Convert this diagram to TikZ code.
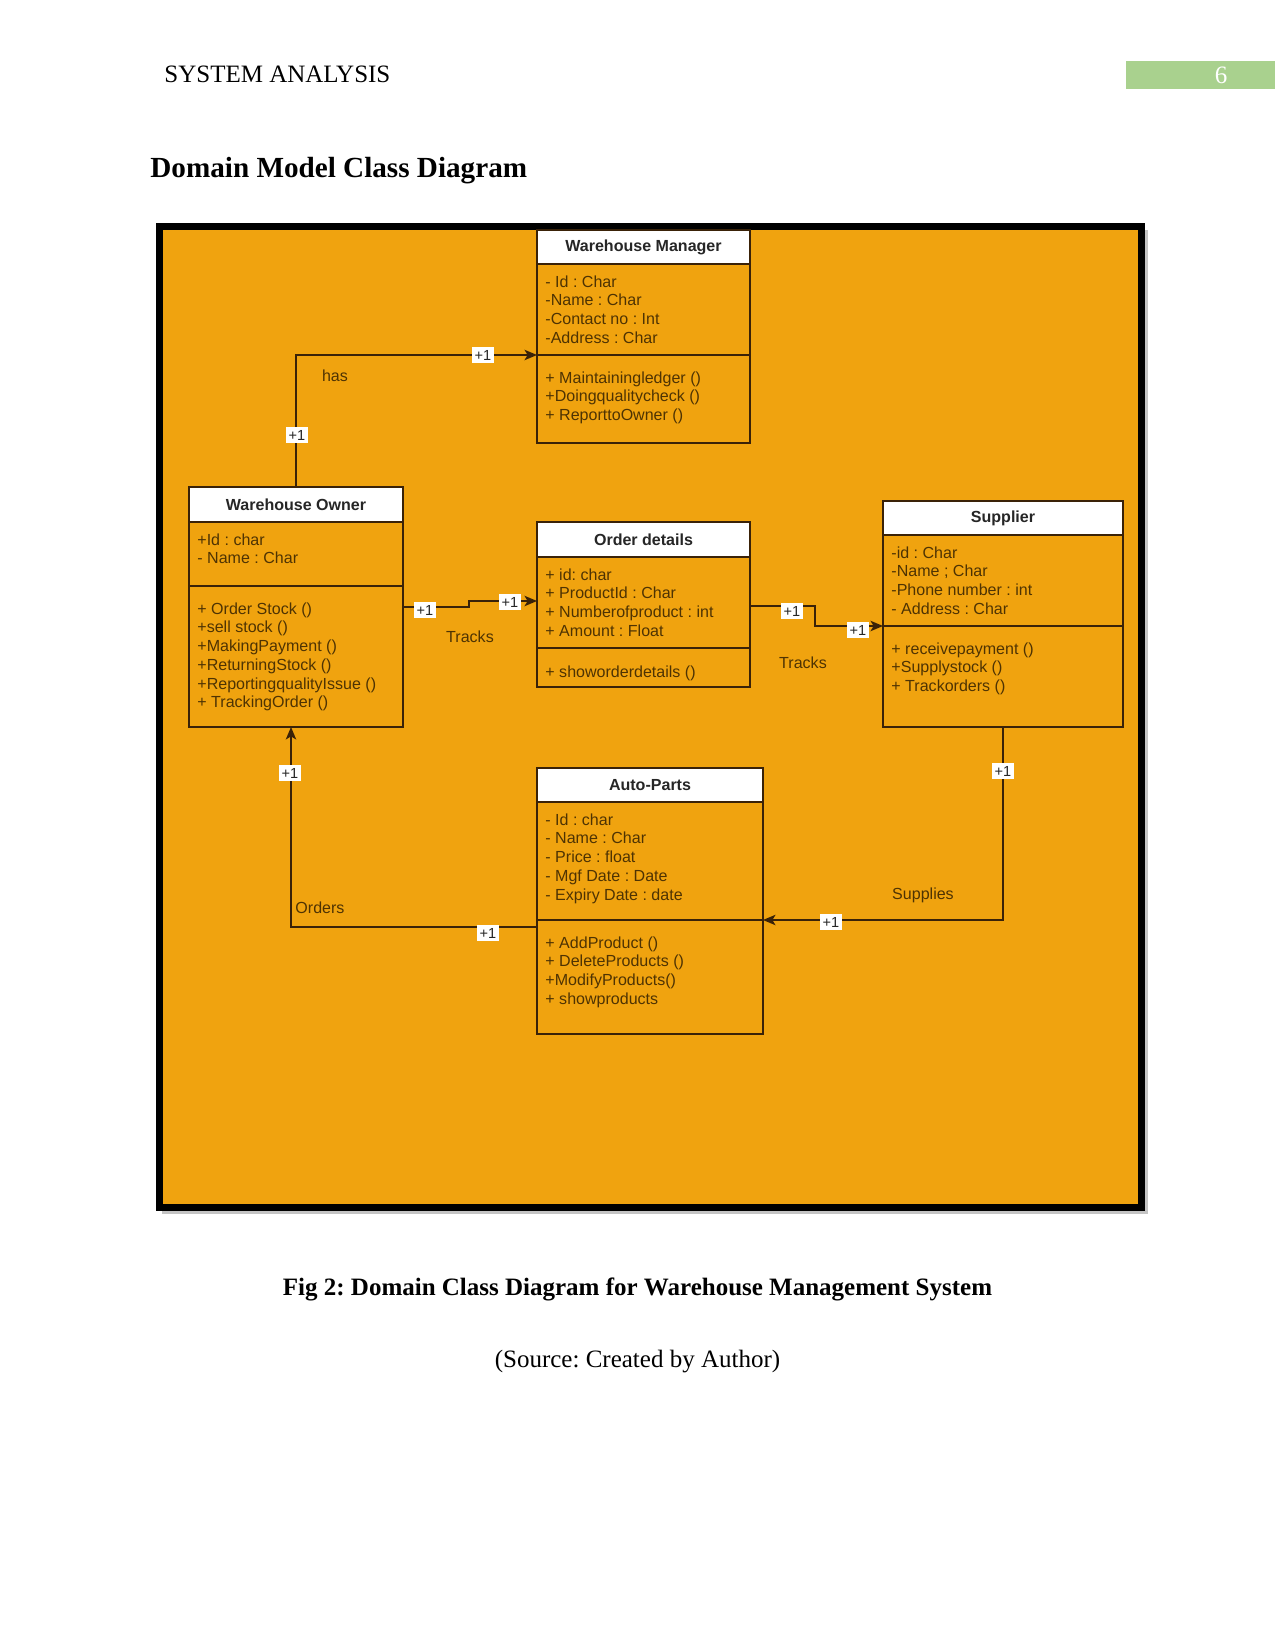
\documentclass[tikz,border=0pt]{standalone}
\usepackage{fontspec}
\setmainfont{Liberation Serif}
\newfontfamily\diagfont{Liberation Sans}
\usetikzlibrary{arrows.meta}
\frenchspacing
\definecolor{bgorange}{HTML}{F0A30F}
\definecolor{umlline}{HTML}{3A2208}
\definecolor{bodytext}{HTML}{4E3303}
\definecolor{headtext}{HTML}{262626}
\definecolor{pagegreen}{HTML}{A9D18E}
\definecolor{shadowgray}{HTML}{C4C4C4}
\newcommand{\px}{0.48pt}
\newcommand{\clsfont}{\diagfont\fontsize{7.7}{9}\selectfont}

\begin{document}
\begin{tikzpicture}[x=0.48pt, y=-0.48pt,
  clshead/.style={draw=umlline, line width=0.9pt, fill=white, anchor=north west, inner sep=0pt, outer sep=0pt, font=\clsfont\bfseries, text=headtext},
  clsbox/.style={draw=umlline, line width=0.9pt, anchor=north west, inner sep=0pt, outer sep=0pt},
  clstext/.style={anchor=north west, inner sep=0pt, align=left, font=\clsfont, text=bodytext, execute at begin node=\strut},
  assoc/.style={draw=umlline, line width=0.75pt, -{Stealth[length=6pt,width=5pt,inset=1.5pt]}},
  mult/.style={fill=white, inner sep=1.5pt, font=\diagfont\fontsize{7}{8}\selectfont, text=black!85},
  rolelbl/.style={font=\clsfont, text=bodytext}]
  \useasboundingbox (0,0) rectangle (1275,1650);

  % page header
  \node[anchor=base west, inner sep=0pt, font=\fontsize{12}{14}\selectfont] (hdr) at (164,83) {SYSTEM ANALYSIS};
  \fill[pagegreen] (1126,61) rectangle (1275,89);
  \node[anchor=base, inner sep=0pt, text=white, font=\fontsize{12}{14}\selectfont] (pgnum) at (1221,84) {6};
  \node[anchor=base west, inner sep=0pt, font=\fontsize{14}{16}\selectfont\bfseries] (title) at (150,178) {Domain Model Class Diagram};

  % frame
  \fill[shadowgray] (162,230) rectangle (1148,1214);
  \draw[line width=7*\px, fill=bgorange] (159.5,226.5) rectangle (1141.5,1207.5);

  % Warehouse Manager
  \node[clshead, minimum width=213*\px, minimum height=34*\px] (mgr) at (537,230) {Warehouse Manager};
  \node[clsbox, minimum width=213*\px, minimum height=91*\px] (mgr-attr) at (mgr.south west) {};
  \node[clsbox, minimum width=213*\px, minimum height=88*\px] (mgr-ops) at (mgr-attr.south west) {};
  \node[clstext] (mgr-attr-t) at ([shift={(8,11)}]mgr-attr.north west)
    {- Id : Char\\-Name : Char\\-Contact no : Int\\-Address : Char};
  \node[clstext] (mgr-ops-t) at ([shift={(8,16)}]mgr-ops.north west)
    {+ Maintainingledger ()\\+Doingqualitycheck ()\\+ ReporttoOwner ()};

  % Warehouse Owner
  \node[clshead, minimum width=214*\px, minimum height=35*\px] (own) at (189,487) {Warehouse Owner};
  \node[clsbox, minimum width=214*\px, minimum height=64*\px] (own-attr) at (own.south west) {};
  \node[clsbox, minimum width=214*\px, minimum height=141*\px] (own-ops) at (own-attr.south west) {};
  \node[clstext] (own-attr-t) at ([shift={(8,11)}]own-attr.north west)
    {+Id : char\\- Name : Char};
  \node[clstext] (own-ops-t) at ([shift={(8,16)}]own-ops.north west)
    {+ Order Stock ()\\+sell stock ()\\+MakingPayment ()\\+ReturningStock ()\\+ReportingqualityIssue ()\\+ TrackingOrder ()};

  % Order details
  \node[clshead, minimum width=213*\px, minimum height=35*\px] (ord) at (537,522) {Order details};
  \node[clsbox, minimum width=213*\px, minimum height=91*\px] (ord-attr) at (ord.south west) {};
  \node[clsbox, minimum width=213*\px, minimum height=39*\px] (ord-ops) at (ord-attr.south west) {};
  \node[clstext] (ord-attr-t) at ([shift={(8,11)}]ord-attr.north west)
    {+ id: char\\+ ProductId : Char\\+ Numberofproduct : int\\+ Amount : Float};
  \node[clstext] (ord-ops-t) at ([shift={(8,16)}]ord-ops.north west)
    {+ showorderdetails ()};

  % Supplier
  \node[clshead, minimum width=240*\px, minimum height=34*\px] (sup) at (883,501) {Supplier};
  \node[clsbox, minimum width=240*\px, minimum height=91*\px] (sup-attr) at (sup.south west) {};
  \node[clsbox, minimum width=240*\px, minimum height=101*\px] (sup-ops) at (sup-attr.south west) {};
  \node[clstext] (sup-attr-t) at ([shift={(8,11)}]sup-attr.north west)
    {-id : Char\\-Name ; Char\\-Phone number : int\\- Address : Char};
  \node[clstext] (sup-ops-t) at ([shift={(8,16)}]sup-ops.north west)
    {+ receivepayment ()\\+Supplystock ()\\+ Trackorders ()};

  % Auto-Parts
  \node[clshead, minimum width=226*\px, minimum height=34*\px] (ap) at (537,768) {Auto-Parts};
  \node[clsbox, minimum width=226*\px, minimum height=118*\px] (ap-attr) at (ap.south west) {};
  \node[clsbox, minimum width=226*\px, minimum height=114*\px] (ap-ops) at (ap-attr.south west) {};
  \node[clstext] (ap-attr-t) at ([shift={(8,11)}]ap-attr.north west)
    {- Id : char\\- Name : Char\\- Price : float\\- Mgf Date : Date\\- Expiry Date : date};
  \node[clstext] (ap-ops-t) at ([shift={(8,16)}]ap-ops.north west)
    {+ AddProduct ()\\+ DeleteProducts ()\\+ModifyProducts()\\+ showproducts};

  % has
  \draw[assoc] (own.north) |- (mgr-attr.south west);
  \node[mult] (has-m1) at (297,435) {+1};
  \node[mult] (has-m2) at (483,355) {+1};
  \node[rolelbl] (has-l) at (335,376) {has};

  % tracks (owner -> order)
  \draw[assoc] (own-ops.east |- 0,607) -- (469,607) -- (469,601) -- (ord-attr.west |- 0,601);
  \node[mult] (trk1-m1) at (425,610) {+1};
  \node[mult] (trk1-m2) at (510,602) {+1};
  \node[rolelbl] (trk1-l) at (470,637) {Tracks};

  % tracks (order -> supplier)
  \draw[assoc] (ord-attr.east |- 0,606) -- (815,606) -- (815,626) -- (sup-attr.south west);
  \node[mult] (trk2-m1) at (792,611) {+1};
  \node[mult] (trk2-m2) at (858,630) {+1};
  \node[rolelbl] (trk2-l) at (803,663) {Tracks};

  % supplies
  \draw[assoc] (sup-ops.south) |- (ap-attr.south east);
  \node[mult] (sup-m1) at (1003,771) {+1};
  \node[mult] (sup-m2) at (831,922) {+1};
  \node[rolelbl] (sup-l) at (923,895) {Supplies};

  % orders
  \draw[assoc] (ap-ops.west |- 0,927) -| (own-ops.south -| 291,0);
  \node[mult] (ord-m1) at (290,773) {+1};
  \node[mult] (ord-m2) at (488,933) {+1};
  \node[rolelbl] (ord-l) at (320,908) {Orders};

  % caption
  \node[anchor=base, font=\fontsize{12}{14}\selectfont\bfseries] (cap) at (637.5,1295) {Fig 2: Domain Class Diagram for Warehouse Management System};
  \node[anchor=base, font=\fontsize{12}{14}\selectfont] (src) at (637.5,1367) {(Source: Created by Author)};
\end{tikzpicture}
\end{document}
